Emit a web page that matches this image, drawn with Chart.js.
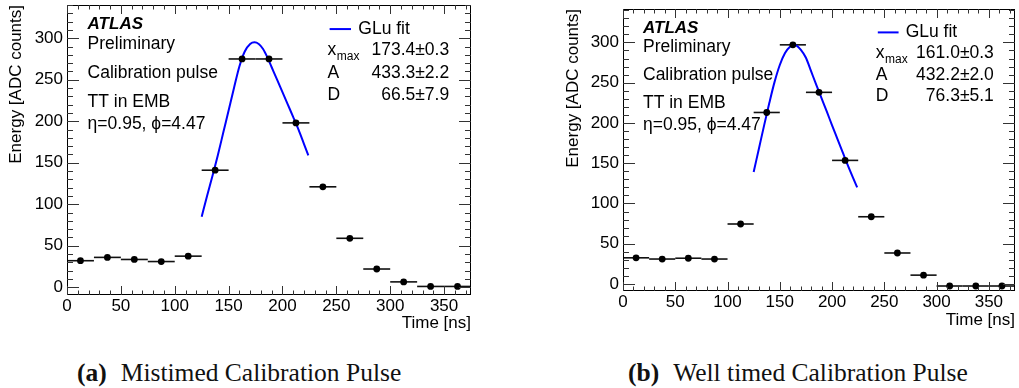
<!DOCTYPE html>
<html>
<head>
<meta charset="utf-8">
<script src="https://cdn.jsdelivr.net/npm/chart.js@4.4.1/dist/chart.umd.min.js"></script>
<style>
  html, body { margin: 0; padding: 0; background: #fff; width: 1019px; height: 388px; overflow: hidden; position: relative; }
  canvas { position: absolute; top: 0; }
  #panelA { left: 0; }
  #panelB { left: 510px; }
  .caption { position: absolute; top: 358px; font-family: "Liberation Serif", serif; font-size: 25.5px; line-height: 30px; color: #111; white-space: nowrap; }
  .caption b { margin-right: 14px; }
</style>
</head>
<body>
<canvas id="panelA" width="510" height="335"></canvas>
<canvas id="panelB" width="509" height="335"></canvas>
<div class="caption" style="left:77px"><b>(a)</b>Mistimed Calibration Pulse</div>
<div class="caption" style="left:628px"><b>(b)</b>Well timed Calibration Pulse</div>
<script>
// ADC samples, one per 25 ns bin
const binCenters = [12.5, 37.5, 62.5, 87.5, 112.5, 137.5, 162.5, 187.5, 212.5, 237.5, 262.5, 287.5, 312.5, 337.5, 362.5];
const binHalfWidth = 12.5;
const energyMistimed = [32, 36, 33.5, 31, 37.5, 141, 275, 275, 198, 121, 59, 22, 6.5, 1, 1];
const energyWellTimed = [32.5, 31, 32, 31, 74.5, 213, 297, 238, 153.5, 83.5, 38.5, 11, -2.5, -2.5, -2.5];

// GLu fit curves
const fitTimeMistimed = [125, 130, 135, 140, 145, 150, 155, 160, 165, 170, 174, 178, 182, 186, 190, 195, 200, 205, 210, 215, 220, 224];
const fitEnergyMistimed = [85, 110, 134, 159, 186, 213, 240, 266, 284, 293, 295, 293, 287, 277, 265, 250, 235, 220, 205, 189.5, 172.5, 159];
const fitTimeWellTimed = [125, 130, 135, 140, 145, 150, 155, 160, 163, 166, 170, 175, 180, 185, 190, 195, 200, 205, 210, 215, 220, 224];
const fitEnergyWellTimed = [139, 168, 197, 225, 251, 272, 287, 295, 297, 296, 291, 281, 264, 247, 230.5, 214, 197, 180.5, 164, 147.5, 132, 120];

// Fit parameters
const fitParamNames = ['x', 'A', 'D'];
const fitParamsMistimed = ['173.4\u00b10.3', '433.3\u00b12.2', '66.5\u00b17.9'];
const fitParamsWellTimed = ['161.0\u00b10.3', '432.2\u00b12.0', '76.3\u00b15.1'];

// Axes
const xTicks = [0, 50, 100, 150, 200, 250, 300, 350];
const yTicks = [0, 50, 100, 150, 200, 250, 300];
const minorStep = 10;

const infoLines = ['Preliminary', 'Calibration pulse', 'TT in EMB', '\u03b7=0.95, \u03d5=4.47'];

const FONT = '"Liberation Sans", Arial, sans-serif';

const hepFrame = {
  id: 'hepFrame',
  beforeDatasetsDraw(chart) {
    const ctx = chart.ctx, xs = chart.scales.x, ys = chart.scales.y, a = chart.chartArea;
    const pts = chart.data.datasets[0].data;
    ctx.save();
    ctx.strokeStyle = '#111';
    ctx.lineWidth = 1.6;
    pts.forEach(p => {
      const x1 = Math.max(a.left, xs.getPixelForValue(p.x - binHalfWidth));
      const x2 = Math.min(a.right, xs.getPixelForValue(p.x + binHalfWidth));
      const y = ys.getPixelForValue(p.y);
      ctx.beginPath();
      ctx.moveTo(x1, y);
      ctx.lineTo(x2, y);
      ctx.stroke();
    });
    ctx.restore();
  },
  afterDraw(chart, args, opts) {
    const ctx = chart.ctx, xs = chart.scales.x, ys = chart.scales.y, a = chart.chartArea;
    const w = a.right - a.left, h = a.bottom - a.top;
    ctx.save();
    // frame
    ctx.strokeStyle = '#000';
    ctx.lineWidth = 1;
    ctx.strokeRect(Math.round(a.left) + 0.5, Math.round(a.top) + 0.5, Math.round(w) - 1, Math.round(h) - 1);
    // ticks on all four sides, pointing inwards
    ctx.strokeStyle = '#333';
    ctx.beginPath();
    for (let v = Math.ceil(xs.min / minorStep) * minorStep; v <= xs.max; v += minorStep) {
      const px = Math.round(xs.getPixelForValue(v)) + 0.5;
      const len = xTicks.includes(v) ? 9 : 4.5;
      ctx.moveTo(px, a.bottom); ctx.lineTo(px, a.bottom - len);
      ctx.moveTo(px, a.top); ctx.lineTo(px, a.top + len);
    }
    for (let v = Math.ceil(ys.min / minorStep) * minorStep; v <= ys.max; v += minorStep) {
      const py = Math.round(ys.getPixelForValue(v)) + 0.5;
      const len = yTicks.includes(v) ? 12 : 6;
      ctx.moveTo(a.left, py); ctx.lineTo(a.left + len, py);
      ctx.moveTo(a.right, py); ctx.lineTo(a.right - len, py);
    }
    ctx.stroke();

    // tick labels
    ctx.fillStyle = '#000';
    ctx.font = '17px ' + FONT;
    ctx.textBaseline = 'middle';
    ctx.textAlign = 'right';
    yTicks.forEach(v => ctx.fillText(String(v), a.left - 4, ys.getPixelForValue(v)));
    ctx.textAlign = 'center';
    xTicks.forEach(v => ctx.fillText(String(v), xs.getPixelForValue(v), a.bottom + 11));

    // ATLAS label block
    const tx = a.left + 0.051 * w;
    ctx.textAlign = 'left';
    ctx.font = 'italic bold 17px ' + FONT;
    ctx.fillText('ATLAS', tx, a.top + 0.068 * h);
    ctx.font = '17.5px ' + FONT;
    const rows = [0.134, 0.235, 0.334, 0.411];
    infoLines.forEach((t, i) => ctx.fillText(t, tx, a.top + rows[i] * h));

    // fit legend
    const ly = a.top + 0.083 * h;
    ctx.strokeStyle = '#0000ff';
    ctx.lineWidth = 2;
    ctx.beginPath();
    ctx.moveTo(a.left + 0.650 * w, ly);
    ctx.lineTo(a.left + 0.703 * w, ly);
    ctx.stroke();
    ctx.fillText('GLu fit', a.left + 0.721 * w, ly);

    const px = a.left + 0.645 * w, vx = a.left + 0.946 * w;
    const prow = [0.157, 0.235, 0.310];
    fitParamNames.forEach((n, i) => {
      const y = a.top + prow[i] * h;
      ctx.textAlign = 'left';
      ctx.font = '17.5px ' + FONT;
      ctx.fillText(n, px, y);
      if (i === 0) {
        const nw = ctx.measureText(n).width;
        ctx.font = '12px ' + FONT;
        ctx.fillText('max', px + nw + 0.5, y + 6);
        ctx.font = '17.5px ' + FONT;
      }
      ctx.textAlign = 'right';
      ctx.fillText(opts.params[i], vx, y);
    });
    ctx.restore();
  }
};

function makePanel(id, cfg) {
  return new Chart(document.getElementById(id), {
    data: {
      datasets: [
        {
          type: 'scatter',
          data: binCenters.map((x, i) => ({ x, y: cfg.energy[i] })),
          pointRadius: 3.4,
          pointBackgroundColor: '#000',
          pointBorderWidth: 0,
          showLine: false
        },
        {
          type: 'line',
          data: cfg.fitT.map((x, i) => ({ x, y: cfg.fitE[i] })),
          borderColor: '#0000ff',
          borderWidth: 2,
          pointRadius: 0,
          cubicInterpolationMode: 'monotone',
          fill: false
        }
      ]
    },
    options: {
      responsive: false,
      animation: false,
      devicePixelRatio: 1,
      layout: { padding: cfg.padding },
      plugins: {
        legend: { display: false },
        tooltip: { enabled: false },
        hepFrame: { params: cfg.params }
      },
      scales: {
        x: {
          type: 'linear', min: 0, max: 375,
          grid: { display: false }, border: { display: false }, ticks: { display: false },
          title: { display: true, text: 'Time [ns]', align: 'end', color: '#000',
                   font: { family: FONT, size: 17 }, padding: { top: 0, bottom: cfg.xTitlePad } },
          afterFit: s => { s.height = cfg.xHeight; }
        },
        y: {
          type: 'linear', min: cfg.yMin, max: cfg.yMax,
          grid: { display: false }, border: { display: false }, ticks: { display: false },
          title: { display: true, text: 'Energy [ADC counts]', align: 'end', color: '#000',
                   font: { family: FONT, size: 17 }, padding: { top: 6.5, bottom: 0 } },
          afterFit: s => { s.width = cfg.yWidth; }
        }
      }
    },
    plugins: [hepFrame]
  });
}

makePanel('panelA', {
  energy: energyMistimed, fitT: fitTimeMistimed, fitE: fitEnergyMistimed, params: fitParamsMistimed,
  padding: { left: 0, top: 5, right: 39, bottom: 0 },
  yWidth: 67, xHeight: 40, xTitlePad: 1, yMin: -9.3, yMax: 340
});
makePanel('panelB', {
  energy: energyWellTimed, fitT: fitTimeWellTimed, fitE: fitEnergyWellTimed, params: fitParamsWellTimed,
  padding: { left: 47, top: 9, right: 3, bottom: 0 },
  yWidth: 66, xHeight: 44, xTitlePad: 4, yMin: -8.7, yMax: 341.5
});
</script>
</body>
</html>
